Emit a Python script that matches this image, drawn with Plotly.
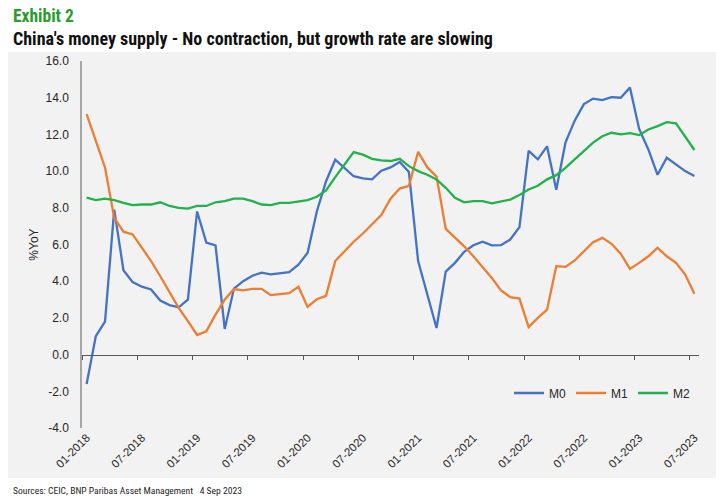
import plotly.graph_objects as go

# ---- data (YoY %, monthly Jan-2018 .. Jul-2023) ----
years = [2018, 2019, 2020, 2021, 2022, 2023]
months = [f"{m:02d}-{y}" for y in years for m in range(1, 13)][:67]

M0 = [-1.6, 1.0, 1.8, 7.9, 4.6, 3.95, 3.7, 3.55, 2.95, 2.7, 2.58, 3.0,
      7.8, 6.1, 5.95, 1.4, 3.6, 4.0, 4.3, 4.47, 4.37, 4.45, 4.5, 4.9,
      5.55, 7.8, 9.45, 10.62, 10.15, 9.72, 9.6, 9.55, 10.02, 10.2, 10.5, 9.95,
      5.1, 3.3, 1.45, 4.52, 5.0, 5.6, 5.96, 6.15, 5.95, 5.96, 6.27, 6.95,
      11.1, 10.64, 11.35, 8.98, 11.55, 12.75, 13.65, 13.95, 13.87, 14.03, 14.0, 14.55,
      12.3, 11.18, 9.8, 10.73, 10.36, 10.0, 9.73]

M1 = [13.1, 11.6, 10.2, 7.45, 6.7, 6.55, 5.8, 5.1, 4.27, 3.4, 2.55, 1.82,
      1.07, 1.27, 2.18, 3.0, 3.57, 3.5, 3.58, 3.58, 3.24, 3.3, 3.35, 3.7,
      2.6, 3.02, 3.2, 5.1, 5.64, 6.15, 6.6, 7.1, 7.6, 8.5, 9.05, 9.2,
      11.05, 10.2, 9.7, 6.85, 6.4, 5.9, 5.36, 4.8, 4.18, 3.5, 3.13, 3.05,
      1.5, 2.0, 2.45, 4.82, 4.78, 5.13, 5.64, 6.13, 6.36, 6.04, 5.5, 4.67,
      5.0, 5.36, 5.82, 5.36, 5.0, 4.36, 3.31]

M2 = [8.55, 8.42, 8.5, 8.42, 8.27, 8.15, 8.18, 8.18, 8.3, 8.1, 8.0, 7.96,
      8.1, 8.1, 8.3, 8.36, 8.5, 8.5, 8.36, 8.18, 8.15, 8.27, 8.27, 8.36,
      8.42, 8.6, 8.95, 9.67, 10.36, 11.04, 10.9, 10.67, 10.58, 10.55, 10.67, 10.27,
      10.0, 9.8, 9.55, 9.09, 8.55, 8.3, 8.36, 8.36, 8.24, 8.36, 8.45, 8.7,
      9.0, 9.2, 9.55, 9.78, 10.18, 10.64, 11.09, 11.55, 11.9, 12.09, 12.0, 12.07,
      11.96, 12.27, 12.45, 12.67, 12.6, 11.9, 11.15]

y_tick_vals = [-4, -2, 0, 2, 4, 6, 8, 10, 12, 14, 16]
y_tick_text = ["-4.0", "-2.0", "0.0", "2.0", "4.0", "6.0", "8.0", "10.0", "12.0", "14.0", "16.0"]

series = [("M0", M0, "#4472C4"), ("M1", M1, "#ED7D31"), ("M2", M2, "#22B14C")]
tick_every = 6

# ---- figure ----
idx = list(range(len(months)))
fig = go.Figure()
for name, vals, col in series:
    fig.add_trace(go.Scatter(x=idx, y=vals, name=name, mode="lines",
                             line=dict(color=col, width=2.3)))

# helper trace so the zero-line tick axis is drawn
fig.add_trace(go.Scatter(x=[0], y=[None], xaxis="x2", showlegend=False,
                         hoverinfo="skip", mode="lines"))

W, H = 725, 503
L, R, T, B = 82, 26, 61, 75
pw, ph = W - L - R, H - T - B

def px_x(p):
    return (p - L) / pw

def px_y(p):
    return (H - B - p) / ph

TFONT = "Liberation Sans Narrow, Roboto Condensed, Roboto, sans-serif"
ymin, ymax = y_tick_vals[0], y_tick_vals[-1]
fig.update_layout(
    width=W, height=H,
    margin=dict(l=L, r=R, t=T, b=B),
    paper_bgcolor="white",
    plot_bgcolor="#f2f2f2",
    font=dict(family="Liberation Sans, Arial, sans-serif", color="#262626", size=12),
    showlegend=True,
    legend=dict(orientation="h", x=px_x(695), xanchor="right",
                y=px_y(393), yanchor="middle", bgcolor="rgba(0,0,0,0)",
                font=dict(size=12, color="#262626"), itemwidth=30,
                tracegroupgap=0),
    xaxis=dict(range=[-0.5, len(months) - 0.5], showgrid=False, zeroline=False,
               showline=False, ticks="",
               tickvals=idx[::tick_every], ticktext=months[::tick_every],
               tickangle=-45, tickfont=dict(size=11.5, color="#262626")),
    xaxis2=dict(overlaying="x", anchor="free", position=(0 - ymin) / (ymax - ymin),
                range=[-0.5, len(months) - 0.5], showgrid=False, zeroline=False,
                showline=True, linecolor="#595959", linewidth=1.2,
                ticks="outside", ticklen=4, tickcolor="#595959", tickwidth=1,
                tickvals=[i - 0.5 for i in idx[::tick_every]] + [len(months) - 1.5],
                showticklabels=False),
    yaxis=dict(range=[ymin, ymax], tickvals=y_tick_vals, ticktext=y_tick_text,
               showgrid=False, zeroline=False, showline=True,
               linecolor="#a6a6a6", linewidth=1.5,
               ticks="", ticklabelstandoff=9, tickfont=dict(size=12, color="#262626"),
               title=dict(text="%YoY", font=dict(size=12, color="#262626"), standoff=4)),
    shapes=[dict(type="rect", xref="paper", yref="paper",
                 x0=px_x(8), x1=px_x(716), y0=px_y(478), y1=px_y(52),
                 fillcolor="#f2f2f2", line=dict(width=0), layer="below")],
    annotations=[
        dict(text="<b>Exhibit 2</b>", xref="paper", yref="paper",
             x=px_x(11), y=px_y(16), xanchor="left", yanchor="middle",
             showarrow=False, font=dict(family=TFONT, size=17.5, color="#2a9d2a")),
        dict(text="<b>China's money supply - No contraction, but growth rate are slowing</b>",
             xref="paper", yref="paper", x=px_x(11), y=px_y(38),
             xanchor="left", yanchor="middle", showarrow=False,
             font=dict(family=TFONT, size=18, color="#111111")),
        dict(text="Sources: CEIC, BNP Paribas Asset Management   4 Sep 2023",
             xref="paper", yref="paper", x=px_x(11), y=px_y(490),
             xanchor="left", yanchor="middle", showarrow=False,
             font=dict(family=TFONT, size=9.6, color="#262626")),
    ],
)

fig.write_html("out.html", config={"displayModeBar": False},
               post_script="document.body.style.margin='0';document.body.style.overflow='hidden';")
